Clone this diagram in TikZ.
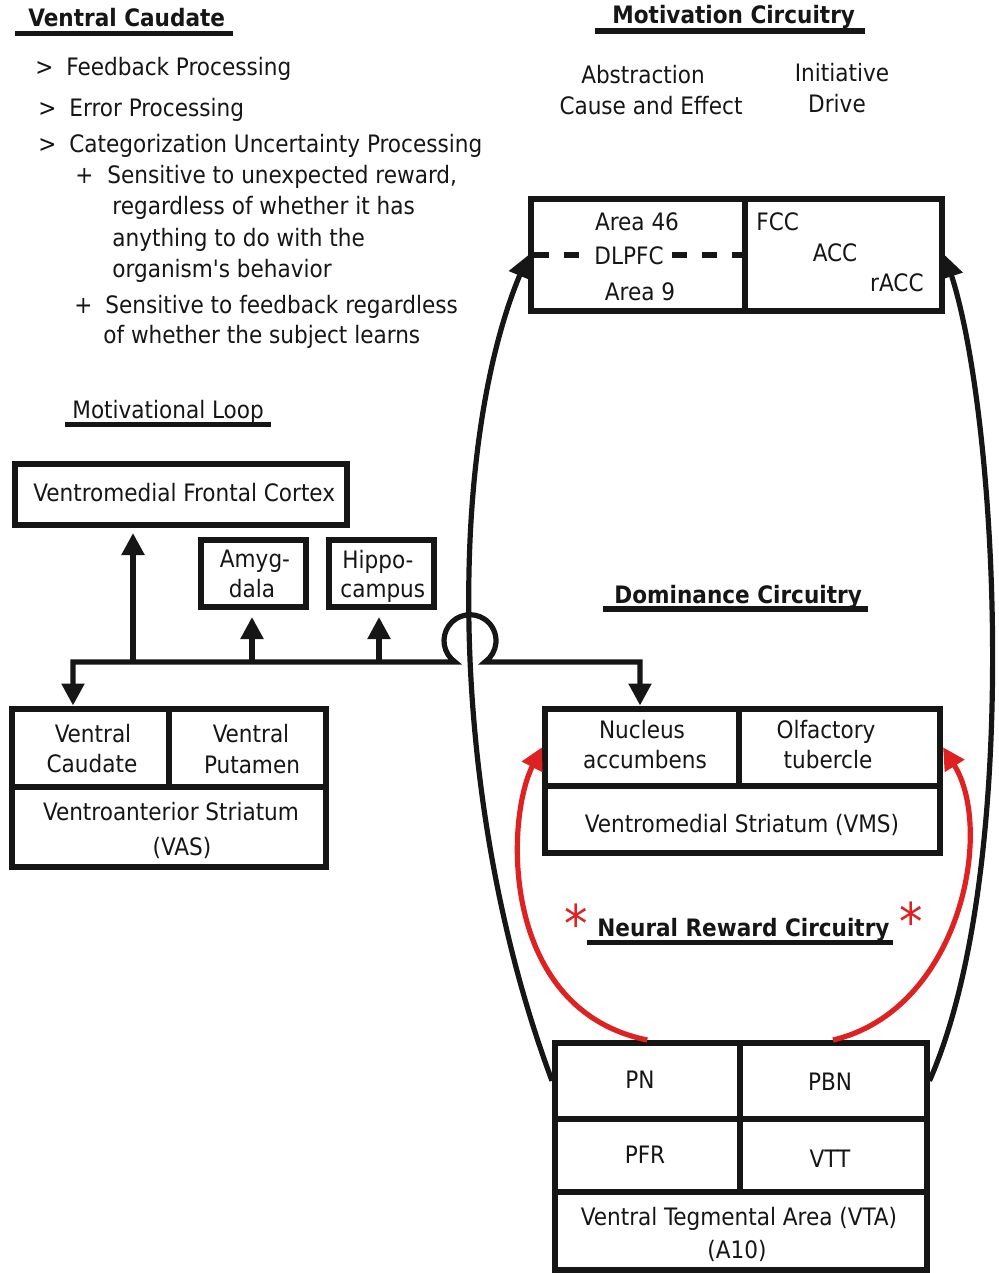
\documentclass[tikz,border=0pt]{standalone}
\usepackage{fontspec}
\setmainfont{DejaVu Sans Condensed}
\usetikzlibrary{arrows.meta,fit}
\definecolor{ink}{RGB}{22,22,22}
\definecolor{reward}{RGB}{222,34,34}
\newcommand{\bodyfont}{\fontsize{12}{14}\selectfont}

\begin{document}
\begin{tikzpicture}[x=0.5pt,y=-0.5pt,
  cell/.style={draw=ink, line width=3pt, inner sep=0pt, fit={#1}},
  lbl/.style={inner sep=0pt, text=ink, font=\bodyfont, anchor=base},
  lblw/.style={lbl, anchor=base west},
  lble/.style={lbl, anchor=base east},
  head/.style={lblw, font=\bodyfont\bfseries},
  rule/.style={draw=ink, line width=2.8pt},
  link/.style={draw=ink, line width=2.6pt},
  redlink/.style={draw=reward, line width=2.6pt},
  arr/.style={-{Triangle[width=11pt,length=11pt]}},
  star/.style={inner sep=0pt, anchor=base, text=reward, font=\fontsize{26}{26}\selectfont}
]
\useasboundingbox[fill=white] (0,0) rectangle (999,1273);

% ---- Ventral Caudate notes ----
\node[head] (vctitle) at (28,27) {Ventral Caudate};
\draw[rule] (15,33.5) -- (233,33.5);
\node[lblw] (g1) at (35,76) {>};
\node[lblw] (n1) at (66,76) {Feedback Processing};
\node[lblw] (g2) at (38,117) {>};
\node[lblw] (n2) at (69,117) {Error Processing};
\node[lblw] (g3) at (38,153) {>};
\node[lblw] (n3) at (69,153) {Categorization Uncertainty Processing};
\node[lblw] (p1) at (75,184) {+};
\node[lblw] (n4) at (107,184) {Sensitive to unexpected reward,};
\node[lblw] (n5) at (112,215) {regardless of whether it has};
\node[lblw] (n6) at (112,247) {anything to do with the};
\node[lblw] (n7) at (112,278) {organism\textquotesingle s behavior};
\node[lblw] (p2) at (74,313) {+};
\node[lblw] (n8) at (105,313) {Sensitive to feedback regardless};
\node[lblw] (n9) at (103,343) {of whether the subject learns};

% ---- Motivation circuitry ----
\node[head] (mctitle) at (612,24) {Motivation Circuitry};
\draw[rule] (595,31) -- (865,31);
\node[lbl] (abs) at (643,84) {Abstraction};
\node[lbl] (cae) at (651,115) {Cause and Effect};
\node[lbl] (ini) at (842,82) {Initiative};
\node[lbl] (drv) at (837,113) {Drive};

\node[cell={(531,199.5) (745,311)}] (dl) {};
\node[cell={(745,199.5) (942,311)}] (acc) {};
\node[lbl] (a46) at (637,230) {Area 46};
\node[lbl] (dlt) at (629,264) {DLPFC};
\node[lbl] (a9) at (640,300) {Area 9};
\draw[draw=ink, line width=2.8pt, dash pattern=on 7.5pt off 7.5pt] (534,255) -- (582,255);
\draw[draw=ink, line width=2.8pt, dash pattern=on 7.5pt off 7.5pt] (672,255) -- (745,255);
\node[lblw] (fcc) at (756,230) {FCC};
\node[lbl] (acct) at (835,262) {ACC};
\node[lble] (racc) at (924,291) {rACC};

% ---- Motivational loop ----
\node[lblw] (mltitle) at (72,418) {Motivational Loop};
\draw[draw=ink, line width=2.5pt] (65,424.5) -- (271,424.5);
\node[cell={(15,464) (347,525)}] (vfc) {};
\node[lblw] (vfct) at (33,501) {Ventromedial Frontal Cortex};
\node[cell={(201,540) (306,607)}] (amy) {};
\node[lbl] (amy1) at (255,567) {Amyg-};
\node[lbl] (amy2) at (252,597) {dala};
\node[cell={(329,540) (434,607)}] (hip) {};
\node[lblw] (hip1) at (342,568) {Hippo-};
\node[lblw] (hip2) at (340,597) {campus};

% Ventroanterior striatum
\node[cell={(11.5,708.5) (168.5,786.5)}] (vc) {};
\node[cell={(168.5,708.5) (326,786.5)}] (vp) {};
\node[cell={(11.5,786.5) (326,866.5)}] (vas) {};
\node[lbl] (vc1) at (93,742) {Ventral};
\node[lbl] (vc2) at (92,772) {Caudate};
\node[lbl] (vp1) at (251,742) {Ventral};
\node[lbl] (vp2) at (252,773) {Putamen};
\node[lbl] (vas1) at (171,820) {Ventroanterior Striatum};
\node[lbl] (vas2) at (182,855) {(VAS)};

% ---- Dominance circuitry ----
\node[head] (dctitle) at (614,603) {Dominance Circuitry};
\draw[rule] (603,609) -- (868,609);
\node[cell={(545,708.5) (738.5,786)}] (nacc) {};
\node[cell={(738.5,708.5) (940,786)}] (olf) {};
\node[cell={(545,786) (940,852.5)}] (vms) {};
\node[lbl] (na1) at (642,738) {Nucleus};
\node[lbl] (na2) at (645,768) {accumbens};
\node[lbl] (ol1) at (826,738) {Olfactory};
\node[lbl] (ol2) at (828,768) {tubercle};
\node[lbl] (vmst) at (742,832) {Ventromedial Striatum (VMS)};

% ---- Neural reward circuitry ----
\node[head] (nrtitle) at (597,936) {Neural Reward Circuitry};
\draw[rule] (587,942.5) -- (893,942.5);
\node[star] (st1) at (576,942) {*};
\node[star] (st2) at (911,940) {*};
\node[cell={(555,1043) (739.5,1118.5)}] (pn) {};
\node[cell={(739.5,1043) (926.5,1118.5)}] (pbn) {};
\node[cell={(555,1118.5) (739.5,1191.5)}] (pfr) {};
\node[cell={(739.5,1118.5) (926.5,1191.5)}] (vtt) {};
\node[cell={(555,1191.5) (926.5,1269.5)}] (vta) {};
\node[lbl] (pnt) at (640,1088) {PN};
\node[lbl] (pbnt) at (830,1090) {PBN};
\node[lbl] (pfrt) at (645,1163) {PFR};
\node[lbl] (vttt) at (830,1167) {VTT};
\node[lbl] (vta1) at (739,1225) {Ventral Tegmental Area (VTA)};
\node[lbl] (vta2) at (737,1258) {(A10)};

% ---- connectors ----
\coordinate (busL) at (73,662);
\coordinate (busR) at (640,662);
\coordinate (jv) at (133,662);
\coordinate (ja) at (252,662);
\coordinate (jh) at (379,662);

% bus with a hop over the long ascending curve
\draw[link, {Triangle[width=11pt,length=11pt]}-{Triangle[width=11pt,length=11pt]}]
  (busL |- vc.north) -- (busL) -- (455.1,662)
  arc[start angle=125, end angle=415, radius=26]
  -- (busR) -- (busR |- nacc.north);
\draw[link, arr, shorten >=2.5pt] (jv) -- (jv |- vfc.south);
\draw[link, arr, shorten >=3.5pt] (ja) -- (ja |- amy.south);
\draw[link, arr, shorten >=3.5pt] (jh) -- (jh |- hip.south);

% long projections to the motivation circuitry
\draw[link, arr] (pn.west) .. controls (447,800) and (447,450) .. (dl.west);
\draw[link, arr] (pbn.east) .. controls (1022,870) and (998,420) .. (acc.east);

% reward projections
\draw[redlink, arr] (pn.north) .. controls (500,1010) and (505,820) .. (nacc.west);
\draw[redlink, arr] (pbn.north) .. controls (960,1010) and (995,830) .. (olf.east);
\end{tikzpicture}
\end{document}
